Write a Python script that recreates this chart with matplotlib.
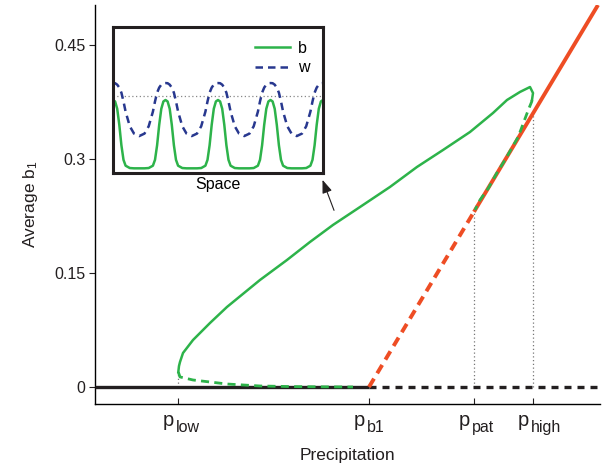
import matplotlib
matplotlib.use("Agg")
import matplotlib.pyplot as plt

plt.rcParams['font.family'] = ['Liberation Sans', 'DejaVu Sans']
plt.rcParams['mathtext.fontset'] = 'custom'
plt.rcParams['mathtext.rm'] = 'Liberation Sans'
plt.rcParams['mathtext.it'] = 'Liberation Sans:italic'

# ---------------- data (precipitation in arbitrary units) ----------------
p_ticks = [0.83, 2.74, 3.79, 4.38]
p_base = 'p'
p_subs = ['low', 'b1', 'pat', 'high']
y_ticks = [0, 0.15, 0.3, 0.45]
y_labels = ['0', '0.15', '0.3', '0.45']

# bare-soil state b=0
bare_stable_x = [0.0, 2.74]
bare_stable_y = [0.0, 0.0]
bare_unstable_x = [2.74, 5.05]
bare_unstable_y = [0.0, 0.0]

# uniform vegetation
unif_unstable_x = [2.74, 3.79]
unif_unstable_y = [0.0, 0.2305]
unif_stable_x = [3.79, 5.03]
unif_stable_y = [0.2305, 0.5026]

# patterned branch (stable, upper)
pat_stable_x = [0.833, 0.84, 0.85, 0.88, 0.98, 1.15, 1.32, 1.65, 1.92, 2.15, 2.38,
                2.65, 2.95, 3.22, 3.48, 3.75, 3.98, 4.12, 4.25, 4.35, 4.38, 4.37]
pat_stable_y = [0.0197, 0.0276, 0.0329, 0.0447, 0.0618, 0.0842, 0.1053, 0.1408,
                0.1671, 0.1908, 0.2132, 0.2368, 0.2632, 0.2895, 0.3118, 0.3355,
                0.3605, 0.3776, 0.3882, 0.3947, 0.3868, 0.3776]
# patterned branch (unstable, upper, joining uniform state)
pat_unst_hi_x = [4.37, 4.367, 4.333, 4.283, 4.233, 4.167, 4.10, 4.017, 3.933, 3.85, 3.80]
pat_unst_hi_y = [0.3776, 0.3754, 0.3645, 0.3470, 0.3293, 0.3141, 0.2987, 0.2812,
                 0.2614, 0.2461, 0.2329]
# patterned branch (unstable, lower, joining bare soil)
pat_unst_lo_x = [0.833, 0.85, 0.98, 1.32, 1.65, 1.98, 2.30, 2.58]
pat_unst_lo_y = [0.0197, 0.0132, 0.0092, 0.0039, 0.0013, 0.0005, 0.0002, 0.0]

# vertical guide lines (x, top value)
guide_x = [0.83, 3.79, 4.38]
guide_top = [0.020, 0.2305, 0.360]

# inset: spatial profiles
space = [0.00, 0.01, 0.02, 0.03, 0.04, 0.05, 0.06, 0.08, 0.10, 0.125, 0.15, 0.17, 0.19, 0.20, 0.21, 0.22, 0.23, 0.24,
         0.25, 0.26, 0.27, 0.28, 0.29, 0.30, 0.31, 0.33, 0.35, 0.375, 0.40, 0.42, 0.44, 0.45, 0.46, 0.47, 0.48, 0.49,
         0.50, 0.51, 0.52, 0.53, 0.54, 0.55, 0.56, 0.58, 0.60, 0.625, 0.65, 0.67, 0.69, 0.70, 0.71, 0.72, 0.73, 0.74,
         0.75, 0.76, 0.77, 0.78, 0.79, 0.80, 0.81, 0.83, 0.85, 0.875, 0.90, 0.92, 0.94, 0.95, 0.96, 0.97, 0.98, 0.99,
         1.00]
b_profile = [0.50, 0.49, 0.44, 0.33, 0.19, 0.09, 0.05, 0.034, 0.032, 0.032, 0.032, 0.034, 0.05, 0.09, 0.19, 0.33, 0.44, 0.49,
             0.50, 0.49, 0.44, 0.33, 0.19, 0.09, 0.05, 0.034, 0.032, 0.032, 0.032, 0.034, 0.05, 0.09, 0.19, 0.33, 0.44, 0.49,
             0.50, 0.49, 0.44, 0.33, 0.19, 0.09, 0.05, 0.034, 0.032, 0.032, 0.032, 0.034, 0.05, 0.09, 0.19, 0.33, 0.44, 0.49,
             0.50, 0.49, 0.44, 0.33, 0.19, 0.09, 0.05, 0.034, 0.032, 0.032, 0.032, 0.034, 0.05, 0.09, 0.19, 0.33, 0.44, 0.49,
             0.50]
w_profile = [0.616, 0.615, 0.605, 0.585, 0.55, 0.49, 0.42, 0.32, 0.27, 0.253, 0.27, 0.32, 0.42, 0.49, 0.55, 0.585, 0.605, 0.615,
             0.616, 0.615, 0.605, 0.585, 0.55, 0.49, 0.42, 0.32, 0.27, 0.253, 0.27, 0.32, 0.42, 0.49, 0.55, 0.585, 0.605, 0.615,
             0.616, 0.615, 0.605, 0.585, 0.55, 0.49, 0.42, 0.32, 0.27, 0.253, 0.27, 0.32, 0.42, 0.49, 0.55, 0.585, 0.605, 0.615,
             0.616, 0.615, 0.605, 0.585, 0.55, 0.49, 0.42, 0.32, 0.27, 0.253, 0.27, 0.32, 0.42, 0.49, 0.55, 0.585, 0.605, 0.615,
             0.616]
inset_ref_level = 0.527

RED = '#EE4D24'
GREEN = '#2DB34A'
NAVY = '#28388F'
BLACK = '#231F20'

fig = plt.figure(figsize=(6.02, 4.70), dpi=100)
ax = fig.add_axes([95/602, 1-404/470, 505/602, 399/470])

# guides
for gx, gt in zip(guide_x, guide_top):
    ax.plot([gx, gx], [0, gt], color='#777777', lw=0.9, ls=(0, (1, 2)), zorder=1)

ax.plot(bare_stable_x, bare_stable_y, color=BLACK, lw=2.4, solid_capstyle='butt', zorder=3)
ax.plot(bare_unstable_x, bare_unstable_y, color=BLACK, lw=2.4, ls=(0, (2.1, 1.8)), zorder=3)

ax.plot(pat_unst_lo_x, pat_unst_lo_y, color=GREEN, lw=2.0, ls=(0, (2.9, 1.9)), zorder=4)
ax.plot(unif_unstable_x, unif_unstable_y, color=RED, lw=2.8, ls=(0, (2.5, 1.6)), zorder=4)
ax.plot(unif_stable_x, unif_stable_y, color=RED, lw=2.8, solid_capstyle='butt', zorder=4)
ax.plot(pat_unst_hi_x, pat_unst_hi_y, color=GREEN, lw=2.0, ls=(0, (2.9, 1.9)), zorder=5)
ax.plot(pat_stable_x, pat_stable_y, color=GREEN, lw=1.8, zorder=5)

ax.set_xlim(0, 5.05)
ax.set_ylim(-0.0224, 0.5026)
ax.spines['top'].set_visible(False)
ax.spines['right'].set_visible(False)
ax.spines['left'].set_linewidth(1.0)
ax.spines['bottom'].set_linewidth(1.0)
ax.set_xticks(p_ticks)
ax.set_xticklabels([])
ax.set_yticks(y_ticks)
ax.set_yticklabels(y_labels, fontsize=11.5)
ax.tick_params(axis='x', direction='in', length=4, colors=BLACK)
ax.tick_params(axis='y', direction='out', length=4, pad=3, colors=BLACK)

# tick labels "p" with lowered subscripts
xtr = ax.get_xaxis_transform()
for tx, sub in zip(p_ticks, p_subs):
    ax.annotate(p_base, xy=(tx, 0), xycoords=xtr, xytext=(-3.0, -15.5),
                textcoords='offset points', ha='right', va='baseline',
                fontsize=14.5, color=BLACK, annotation_clip=False)
    ax.annotate(sub, xy=(tx, 0), xycoords=xtr, xytext=(-1.8, -20.5),
                textcoords='offset points', ha='left', va='baseline',
                fontsize=11.5, color=BLACK, annotation_clip=False)

ax.set_xlabel('Precipitation', fontsize=12.5, color=BLACK)
ax.xaxis.set_label_coords(0.5, -0.110)
ax.set_ylabel(r'Average b$_1$', fontsize=12.5, labelpad=10, color=BLACK)

ax.annotate('', xy=(2.265, 0.276), xytext=(2.40, 0.229),
            arrowprops=dict(arrowstyle='-|>,head_length=0.8,head_width=0.3',
                            color=BLACK, lw=0.8), zorder=6)

# inset
ins = fig.add_axes([113/602, 1-173/470, 210/602, 146/470])
ins.plot([0, 1], [inset_ref_level, inset_ref_level], color='#888888', lw=0.9, ls=(0, (1, 2)))
ins.plot(space, b_profile, color=GREEN, lw=1.8, label='b')
ins.plot(space, w_profile, color=NAVY, lw=1.8, ls=(0, (3, 2)), label='w')
ins.set_xlim(0, 1)
ins.set_ylim(0, 1)
ins.set_xticks([])
ins.set_yticks([])
for s in ins.spines.values():
    s.set_linewidth(2.2)
    s.set_color(BLACK)
ins.set_xlabel('Space', fontsize=11.5, labelpad=3)
ins.legend(loc='upper right', frameon=False, fontsize=11.5, handlelength=2.2,
           labelspacing=0.3, handletextpad=0.5, borderaxespad=0.45)

fig.savefig('out.png', dpi=100)
